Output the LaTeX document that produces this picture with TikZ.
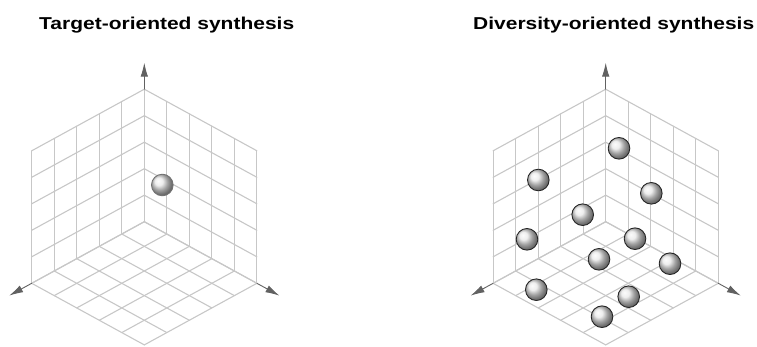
\documentclass[tikz,border=0pt]{standalone}
\usepackage{graphicx}
\usepackage{fontspec}
\setmainfont{Liberation Sans}
\usetikzlibrary{arrows.meta}
\begin{document}
\begin{tikzpicture}[x=1pt,y=1pt,line cap=round,line join=round]
\tikzset{
  gridline/.style={black!22,line width=1.1pt},
  axisarrow/.style={black!62,line width=0.9pt,-{Latex[length=14pt,width=7.5pt]}},
  bead/.style={circle,minimum size=21.6pt,inner sep=0pt,shading=ball,ball color=black!9,draw=black!85,line width=0.9pt},
  heading/.style={font=\bfseries\fontsize{17.2}{20}\selectfont,anchor=base},
  % isometric frame: x to the left, y to the right, z up
  iso/.style={x={(-22.52pt,-12.32pt)},y={(22.52pt,-12.32pt)},z={(0pt,26.5pt)}}
}
\useasboundingbox (0,0) rectangle (757,346);

% the two corner grids
\foreach \ox in {144.3,605.7} {
\begin{scope}[shift={(\ox,124.3)},iso]
  \foreach \i in {0,...,5} {
    \draw[gridline] (\i,0,0) -- (\i,0,5);
    \draw[gridline] (0,0,\i) -- (5,0,\i);
    \draw[gridline] (0,\i,0) -- (0,\i,5);
    \draw[gridline] (0,0,\i) -- (0,5,\i);
    \draw[gridline] (\i,0,0) -- (\i,5,0);
    \draw[gridline] (0,\i,0) -- (5,\i,0);
  }
  % axes
  \coordinate (xe) at (5,0,0);
  \coordinate (ye) at (0,5,0);
  \coordinate (ze) at (0,0,5);
  \coordinate (xt) at (6,0,0);
  \coordinate (yt) at (0,6,0);
  \coordinate (zt) at (0,0,6);
  \draw[axisarrow] (xe) -- (xt);
  \draw[axisarrow] (ye) -- (yt);
  \draw[axisarrow] (ze) -- (zt);
\end{scope}
}

% headings
\node[heading] (tos) at (166.7,316) {\scalebox{1.22}[1]{Target-oriented synthesis}};
\node[heading] (dos) at (613.7,316) {\scalebox{1.22}[1]{Diversity-oriented synthesis}};

% one compound
\node[bead,draw=black!55] (t1) at (162.3,161) {};

% many compounds
\foreach \px/\py [count=\k] in {619/197.7,538.3/166,651.3/152.7,582.7/131.3,527/106.7,
    635/107.3,599/86.7,670/82.3,536.3/56.3,628.7/49.3,602/29.3}
  \node[bead] (d\k) at (\px,\py) {};

\end{tikzpicture}
\end{document}
